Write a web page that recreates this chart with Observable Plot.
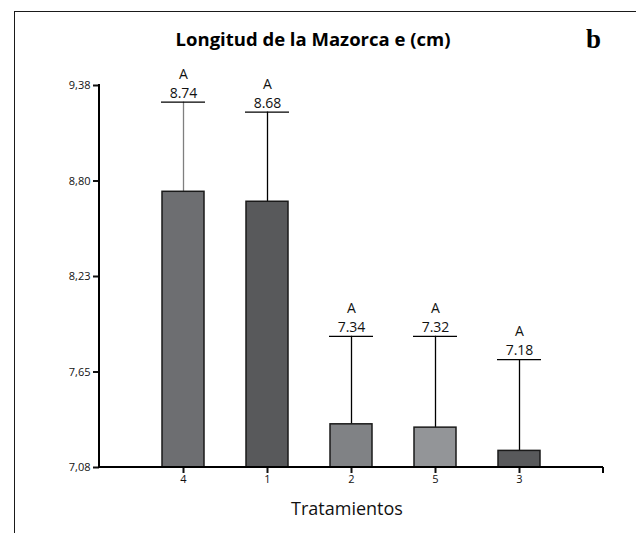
<!DOCTYPE html>
<html><head><meta charset="utf-8">
<script src="https://cdn.jsdelivr.net/npm/d3@7"></script>
<script src="https://cdn.jsdelivr.net/npm/@observablehq/plot@0.6"></script>
<style>
body{margin:0;background:#fff;}
#wrap{position:relative;width:636px;height:533px;overflow:hidden;font-family:"Open Sans",sans-serif;}
#border{position:absolute;left:14px;top:11px;width:700px;height:600px;border-left:1.5px solid #1a1a1a;border-top:1.5px solid #1a1a1a;}
#chart{position:absolute;left:0;top:0;}
#title{position:absolute;left:113px;top:27px;width:400px;text-align:center;font-weight:700;font-size:18.5px;color:#000;line-height:24px;}
#letter{position:absolute;left:586px;top:24px;font-family:"Liberation Serif",serif;font-weight:700;font-size:27px;color:#000;line-height:30px;}
#xlabel{position:absolute;left:247px;top:496px;width:200px;text-align:center;font-size:18px;color:#111;line-height:24px;}
</style></head>
<body>
<div id="wrap">
  <div id="border"></div>
  <div id="chart"></div>
  <div id="title">Longitud de la Mazorca e (cm)</div>
  <div id="letter">b</div>
  <div id="xlabel">Tratamientos</div>
</div>
<script>
const tratamientos = ["4", "1", "2", "5", "3"];
const medias = [8.74, 8.68, 7.34, 7.32, 7.18];
const limiteSuperior = [9.28, 9.22, 7.87, 7.87, 7.73];
const letras = ["A", "A", "A", "A", "A"];
const rellenos = ["#6d6e71", "#58595b", "#808285", "#939598", "#58595b"];
const bigotes = ["#7f7f7f", "#000000", "#000000", "#000000", "#000000"];
const yTicks = [7.08, 7.655, 8.23, 8.805, 9.38];
const yTickLabels = ["7,08", "7,65", "8,23", "8,80", "9,38"];

const data = tratamientos.map((t, i) => ({
  t, media: medias[i], sup: limiteSuperior[i], letra: letras[i],
  fill: rellenos[i], bigote: bigotes[i], etiqueta: medias[i].toFixed(2)
}));

function ejes(index, scales, values, dims) {
  const g = d3.create("svg:g").attr("stroke", "#000").attr("stroke-width", 2).attr("fill", "none");
  const xl = dims.marginLeft, xr = dims.width - dims.marginRight;
  const yb = scales.y(yTicks[0]), yt = scales.y(yTicks[yTicks.length - 1]);
  g.append("line").attr("x1", xl).attr("x2", xl).attr("y1", yb + 1).attr("y2", yt - 1);
  g.append("line").attr("x1", xl - 1).attr("x2", xr).attr("y1", yb).attr("y2", yb);
  g.append("line").attr("x1", xr).attr("x2", xr).attr("y1", yb).attr("y2", yb + 6);
  return g.node();
}

const chart = Plot.plot({
  width: 636,
  height: 533,
  marginLeft: 99,
  marginRight: 33,
  marginTop: 85,
  marginBottom: 66,
  style: {background: "transparent", fontFamily: "Open Sans, sans-serif", color: "#111"},
  x: {domain: tratamientos, paddingInner: 0.5, paddingOuter: 0.75, label: null},
  y: {domain: [yTicks[0], yTicks[yTicks.length - 1]], label: null},
  marks: [
    Plot.ruleX(data, {x: "t", y1: "media", y2: "sup", stroke: "bigote", strokeWidth: 1.3}),
    Plot.tickY(data, {x: "t", y: "sup", stroke: "#000", strokeWidth: 1.3, insetLeft: -1, insetRight: -1}),
    Plot.barY(data, {x: "t", y1: yTicks[0], y2: "media", fill: "fill", stroke: "#1a1a1a", strokeWidth: 1.5}),
    Plot.text(data, {x: "t", y: "sup", text: "etiqueta", dy: -9, fontSize: 14, fill: "#111"}),
    Plot.text(data, {x: "t", y: "sup", text: "letra", dy: -28, fontSize: 14, fill: "#111"}),
    Plot.axisY({ticks: yTicks, tickFormat: d => yTickLabels[yTicks.indexOf(d)], tickSize: 6, tickPadding: 3, fontSize: 11, strokeWidth: 2, fill: "#111", label: null}),
    Plot.axisX({tickSize: 6, tickPadding: 2, fontSize: 11, strokeWidth: 2, fill: "#111", label: null}),
    ejes
  ]
});
document.getElementById("chart").appendChild(chart);
</script>
</body></html>
